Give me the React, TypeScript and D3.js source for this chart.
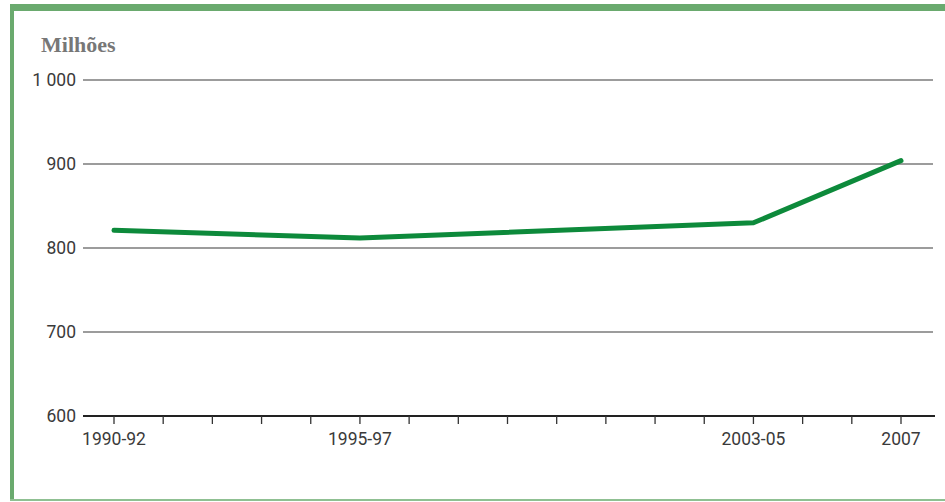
import React from "react";
import * as d3 from "d3";

const years = [1991, 1996, 2004, 2007];
const values = [821, 812, 830, 904];
const tickLabels: Record<number, string> = { 1991: "1990-92", 1996: "1995-97", 2004: "2003-05", 2007: "2007" };
const yTicks = [600, 700, 800, 900, 1000];
const minorTickYears = d3.range(1991, 2008);

const W = 945;
const H = 502;

export default function App() {
  const x = d3.scaleLinear().domain([1991, 2007]).range([114, 901]);
  const y = d3.scaleLinear().domain([600, 1000]).range([416, 80]);
  const line = d3
    .line<number>()
    .x((_, i) => x(years[i]))
    .y((d) => y(d));
  const fmt = (v: number) => (v >= 1000 ? d3.format(",")(v).replace(",", " ") : String(v));
  const tickFont = "Roboto, 'Liberation Sans', sans-serif";
  return (
    <svg width={W} height={H} style={{ position: "absolute", left: 0, top: 0, background: "#fff" }}>
      <rect x={0} y={0} width={W} height={H} fill="#fff" />
      <rect x={10} y={4} width={W - 10} height={7} fill="#6aaa6e" />
      <rect x={10} y={4} width={4} height={497} fill="#6aaa6e" />
      <rect x={10} y={499} width={W - 10} height={2} fill="#8fc092" />
      <text x={41} y={52} fontFamily="'Liberation Serif', 'Times New Roman', serif" fontWeight="bold" fontSize={22} fill="#777">
        Milhões
      </text>
      {yTicks.map((t) => (
        <g key={t}>
          {t > 600 && <line x1={83} x2={933} y1={y(t)} y2={y(t)} stroke="#3a3a3a" strokeWidth={1.2} />}
          <text x={76} y={y(t)} dy="0.36em" textAnchor="end" fontFamily={tickFont} fontSize={17.5} fill="#3a3a3a">
            {fmt(t)}
          </text>
        </g>
      ))}
      <line x1={83} x2={935} y1={y(600)} y2={y(600)} stroke="#222" strokeWidth={2.2} />
      {minorTickYears.map((yr) => (
        <line key={yr} x1={x(yr)} x2={x(yr)} y1={y(600)} y2={y(600) + 8} stroke="#333" strokeWidth={1.3} />
      ))}
      {years.map((yr) => (
        <text key={yr} x={x(yr)} y={445} textAnchor="middle" fontFamily={tickFont} fontSize={17.5} fill="#3a3a3a">
          {tickLabels[yr]}
        </text>
      ))}
      <path d={line(values) || ""} fill="none" stroke="#0d8a3b" strokeWidth={5} strokeLinejoin="round" strokeLinecap="round" />
    </svg>
  );
}
